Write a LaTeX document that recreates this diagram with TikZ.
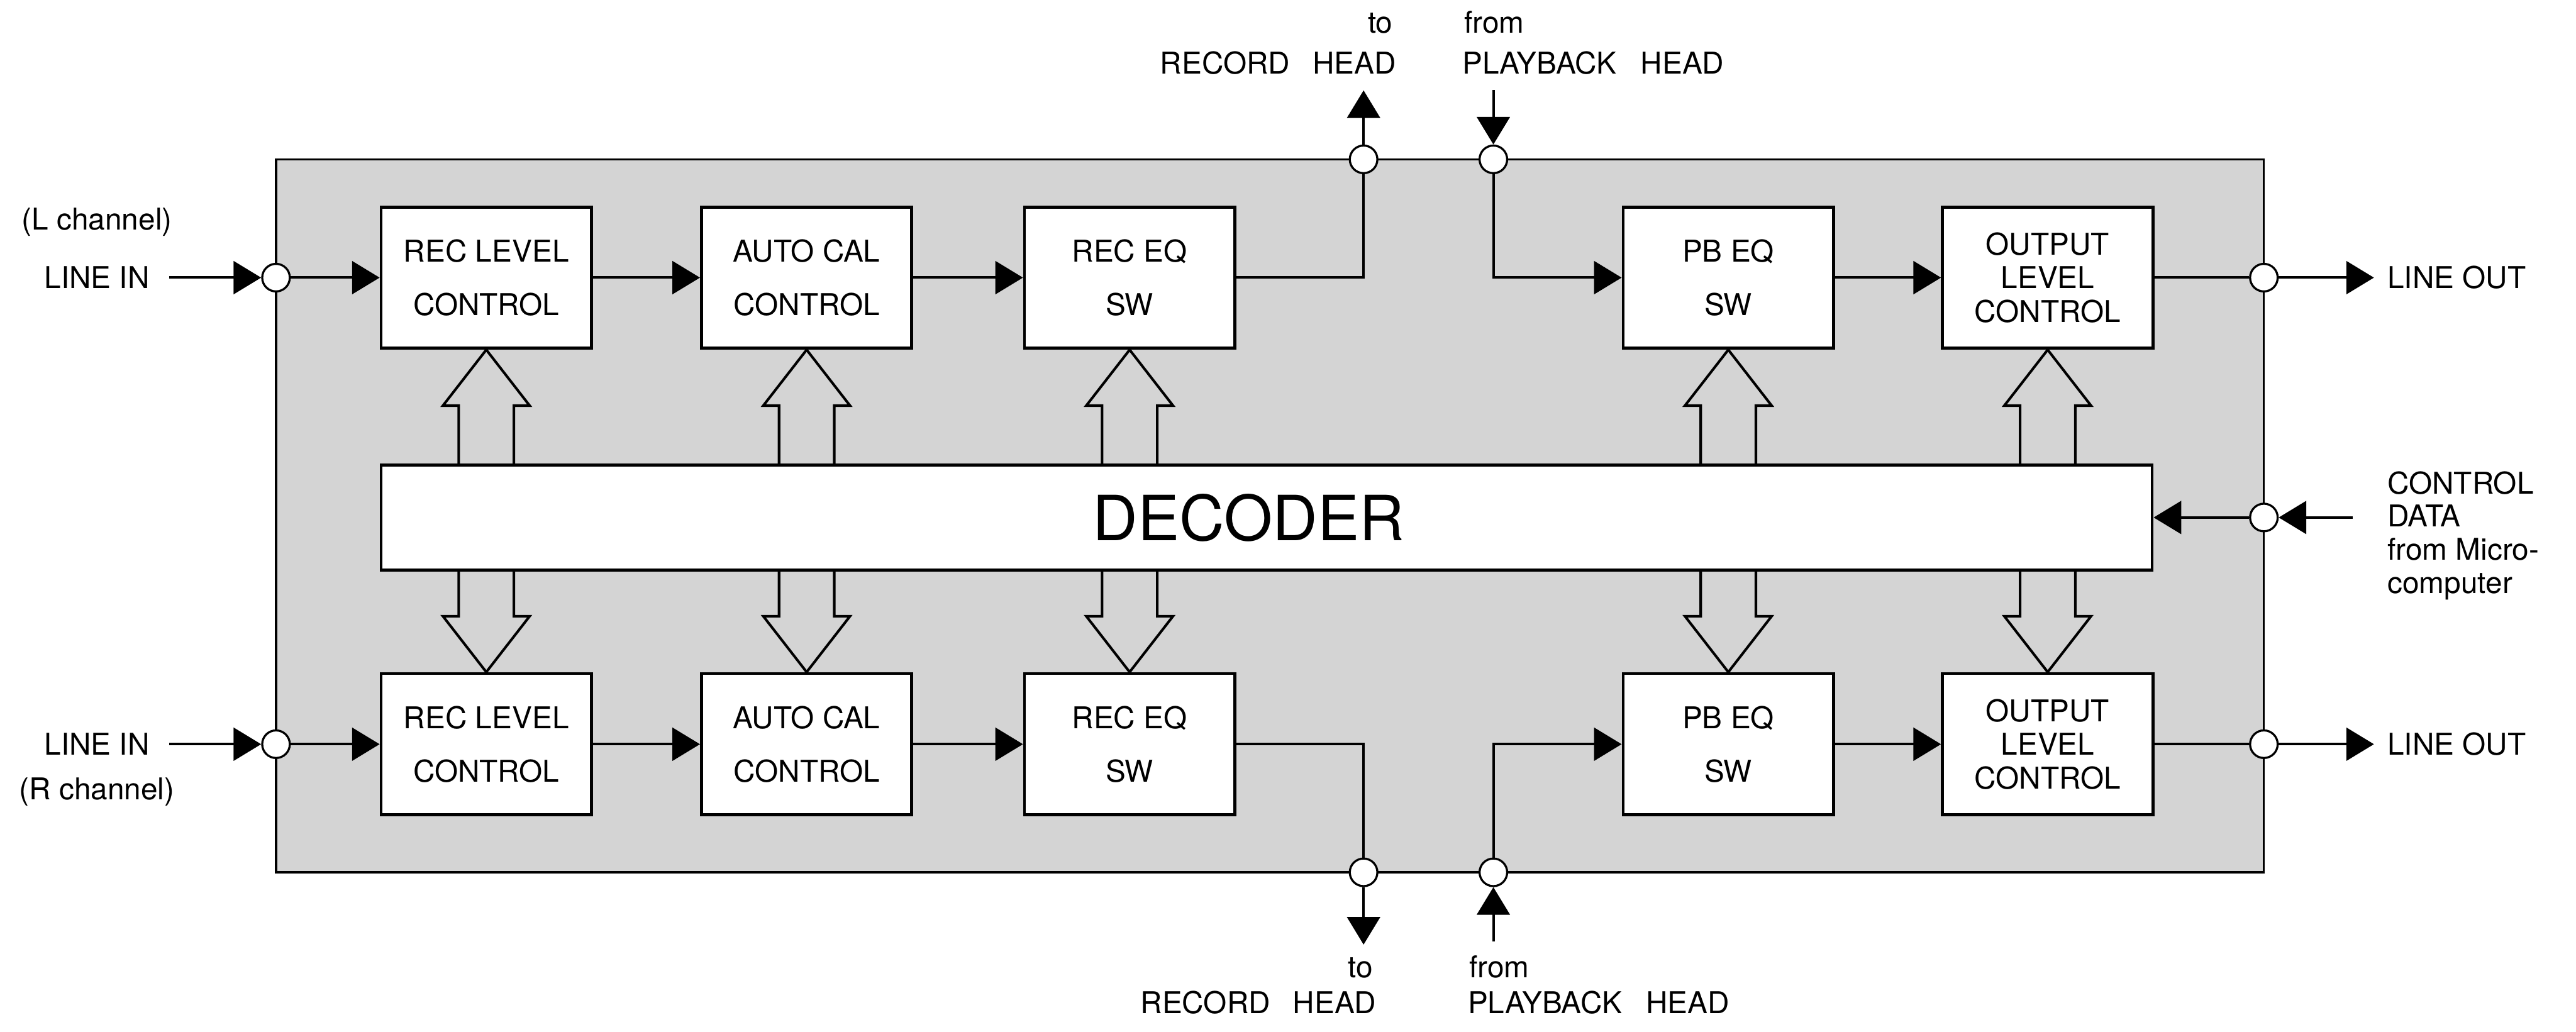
\documentclass[tikz,border=0pt]{standalone}
\usepackage{fontspec}
\setmainfont{TeX Gyre Heros}
\usetikzlibrary{arrows.meta,calc}
\tikzset{
blk/.style={draw,fill=white,line width=1.3pt,minimum width=3.2cm,minimum height=2.15cm,align=center,inner sep=0pt,font=\fontsize{13}{23}\selectfont},
jack/.style={circle,draw,fill=white,line width=0.9pt,minimum size=0.42cm,inner sep=0pt},
lbl/.style={font=\fontsize{13}{15}\selectfont,inner sep=0pt},
wire/.style={line width=1.1pt},
sig/.style={wire,-{Triangle[length=0.42cm,width=0.5cm]}},
bus/.style={line width=1.1pt,line join=miter}
}
\newcommand{\busup}[1]{\draw[bus] let \p1=(#1.south),\p2=(dec.north) in
(\x1-0.42cm,\y2)--(\x1-0.42cm,\y1-0.85cm)--(\x1-0.66cm,\y1-0.85cm)--(\x1,\y1)
--(\x1+0.66cm,\y1-0.85cm)--(\x1+0.42cm,\y1-0.85cm)--(\x1+0.42cm,\y2);}
\newcommand{\busdown}[1]{\draw[bus] let \p1=(#1.north),\p2=(dec.south) in
(\x1-0.42cm,\y2)--(\x1-0.42cm,\y1+0.85cm)--(\x1-0.66cm,\y1+0.85cm)--(\x1,\y1)
--(\x1+0.66cm,\y1+0.85cm)--(\x1+0.42cm,\y1+0.85cm)--(\x1+0.42cm,\y2);}
\begin{document}
\begin{tikzpicture}
\useasboundingbox (0,0) rectangle (39.2,-15.7);
\draw[fill=black!17,line width=0.9pt](4.2,-2.425)rectangle(34.45,-13.275);
\node[blk](rlvL) at (7.4,-4.225){REC LEVEL\\CONTROL};
\node[blk](acalL) at (12.275,-4.225){AUTO CAL\\CONTROL};
\node[blk](receqL) at (17.19,-4.225){REC EQ\\SW};
\node[blk](pbeqL) at (26.3,-4.225){PB EQ\\SW};
\node[blk,font=\fontsize{13}{14.5}\selectfont](outlvL) at (31.16,-4.225){OUTPUT\\LEVEL\\CONTROL};
\node[blk](rlvR) at (7.4,-11.325){REC LEVEL\\CONTROL};
\node[blk](acalR) at (12.275,-11.325){AUTO CAL\\CONTROL};
\node[blk](receqR) at (17.19,-11.325){REC EQ\\SW};
\node[blk](pbeqR) at (26.3,-11.325){PB EQ\\SW};
\node[blk,font=\fontsize{13}{14.5}\selectfont](outlvR) at (31.16,-11.325){OUTPUT\\LEVEL\\CONTROL};
\node[draw,fill=white,line width=1.3pt,minimum width=26.95cm,minimum height=1.6cm,font=\fontsize{27}{30}\selectfont](dec) at (19.275,-7.875){DECODER\hspace*{0.55cm}};
\foreach \b in {rlv,acal,receq,pbeq,outlv}{\busup{\b L}\busdown{\b R}}
\node[jack](jinL) at (4.2,-4.225){};
\node[jack](jinR) at (4.2,-11.325){};
\node[jack](jrecL) at (20.75,-2.425){};
\node[jack](jpbL) at (22.725,-2.425){};
\node[jack](jrecR) at (20.75,-13.275){};
\node[jack](jpbR) at (22.725,-13.275){};
\node[jack](joutL) at (34.45,-4.225){};
\node[jack](joutR) at (34.45,-11.325){};
\node[jack](jctl) at (34.45,-7.875){};
\coordinate (srcL) at (2.575,-4.225);
\coordinate (srcR) at (2.575,-11.325);
\coordinate (tipL) at (20.75,-1.375);
\coordinate (tipR) at (20.75,-14.375);
\coordinate (pbsL) at (22.725,-1.37);
\coordinate (pbsR) at (22.725,-14.33);
\coordinate (dstL) at (36.125,-4.225);
\coordinate (dstR) at (36.125,-11.325);
\coordinate (ctlsrc) at (35.8,-7.875);
\foreach \c in {L,R}{
\draw[sig](src\c)--(jin\c);
\draw[sig](jin\c)--(rlv\c);
\draw[sig](rlv\c)--(acal\c);
\draw[sig](acal\c)--(receq\c);
\draw[wire](receq\c.east)-|(jrec\c);
\draw[sig](jrec\c)--(tip\c);
\draw[sig](pbs\c)--(jpb\c);
\draw[sig](jpb\c)|-(pbeq\c.west);
\draw[sig](pbeq\c)--(outlv\c);
\draw[wire](outlv\c)--(jout\c);
\draw[sig](jout\c)--(dst\c);
}
\draw[sig](ctlsrc)--(jctl);
\draw[sig](jctl)--(dec.east);
\node[lbl](chL) at (1.475,-3.375){(L channel)};
\node[lbl](liL) at (1.475,-4.225){LINE IN};
\node[lbl](liR) at (1.475,-11.325){LINE IN};
\node[lbl](chR) at (1.475,-12.05){(R channel)};
\node[lbl,anchor=base east](toL) at (21.2,-0.5){to};
\node[lbl,anchor=base east](rhL) at (21.25,-1.125){RECORD\hspace{0.75em}HEAD};
\node[lbl,anchor=base west](frL) at (22.275,-0.5){from};
\node[lbl,anchor=base west](phL) at (22.25,-1.125){PLAYBACK\hspace{0.8em}HEAD};
\node[lbl,anchor=base east](toR) at (20.9,-14.875){to};
\node[lbl,anchor=base east](rhR) at (20.95,-15.425){RECORD\hspace{0.75em}HEAD};
\node[lbl,anchor=base west](frR) at (22.35,-14.875){from};
\node[lbl,anchor=base west](phR) at (22.33,-15.425){PLAYBACK\hspace{0.8em}HEAD};
\node[lbl,anchor=west](loL) at (36.325,-4.225){LINE OUT};
\node[lbl,anchor=west](loR) at (36.325,-11.325){LINE OUT};
\node[lbl,anchor=west,align=left,font=\fontsize{13}{14.3}\selectfont](ctltxt) at (36.325,-8.15){CONTROL\\DATA\\from Micro-\\computer};
\end{tikzpicture}
\end{document}
